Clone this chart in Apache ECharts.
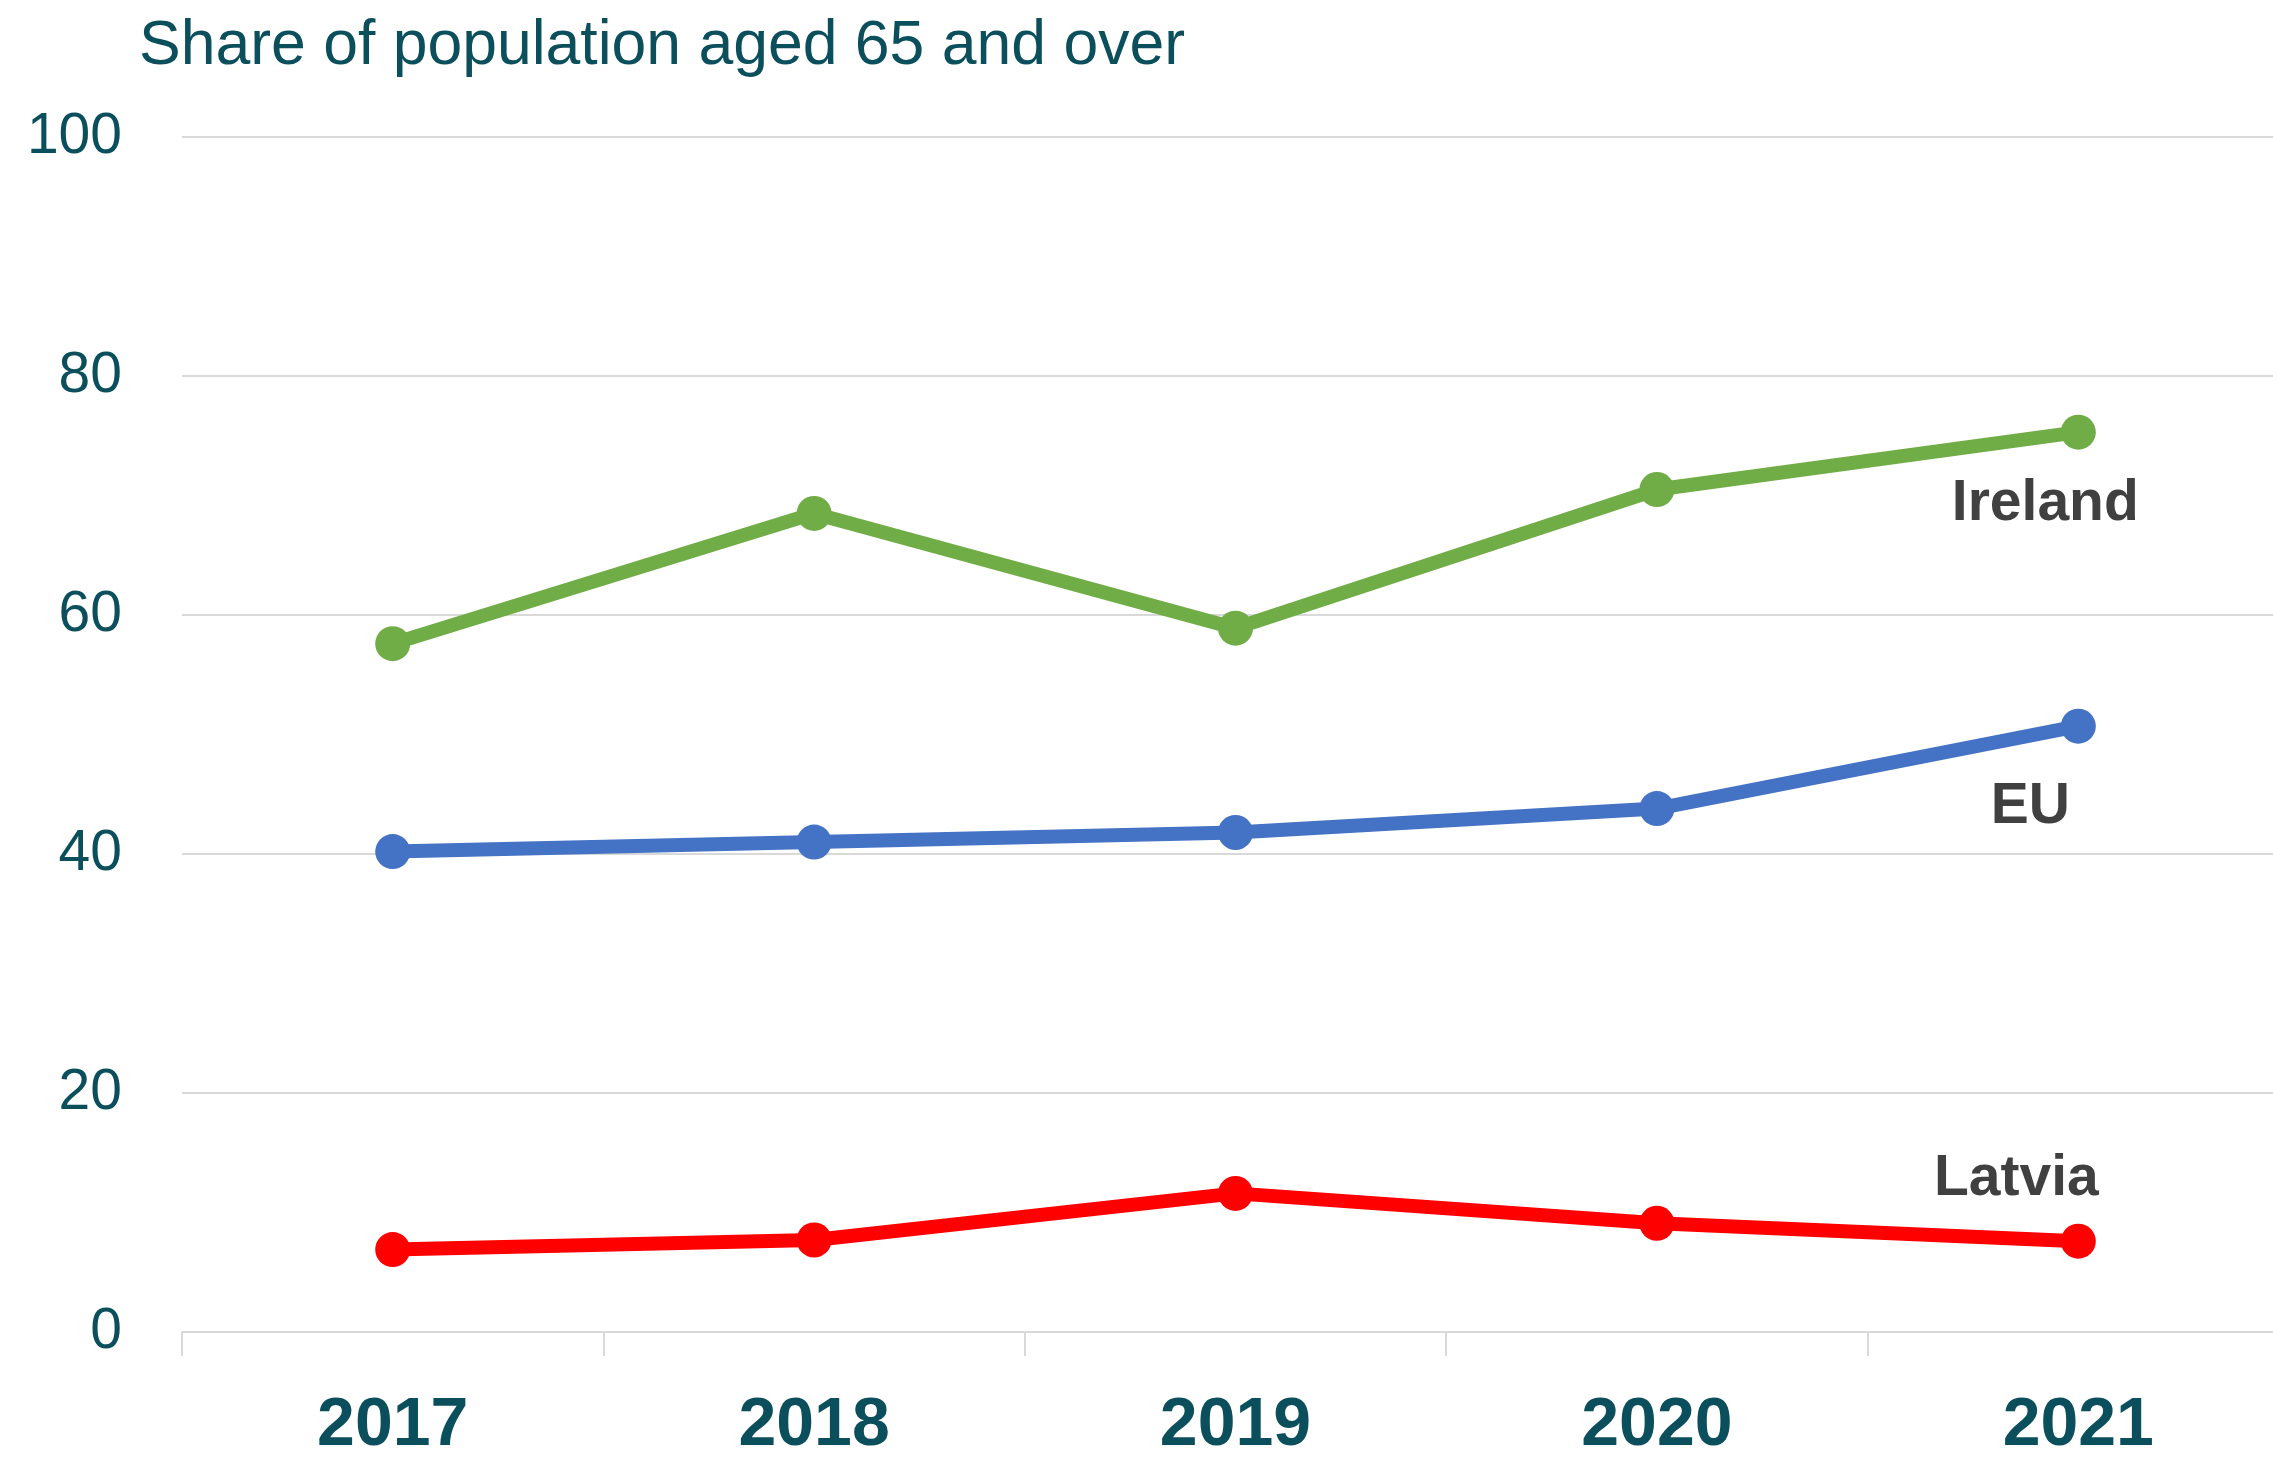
<!DOCTYPE html>
<html>
<head>
<meta charset="utf-8">
<script src="https://cdn.jsdelivr.net/npm/echarts@6.0.0/dist/echarts.min.js"></script>
<style>
    html, body { margin: 0; padding: 0; background: #fff; overflow: hidden; }
    /* the last category runs a little past the right edge of the picture */
    #chart { width: 2289px; height: 1460px; }
</style>
</head>
<body>
<div id="chart"></div>
<script>
const years = ['2017', '2018', '2019', '2020', '2021']
const ireland = [57.6, 68.5, 58.9, 70.5, 75.3]
const eu = [40.2, 41.0, 41.8, 43.8, 50.7]
const latvia = [6.9, 7.7, 11.6, 9.1, 7.6]
const yTicks = [0, 20, 40, 60, 80, 100]

const teal = '#0B4F5C'
const grey = '#D9D9D9'
const font = '"Liberation Sans", Arial, sans-serif'

// put the series name on the last point, shifted left of the marker
function withEndLabel(values, name, offset) {
    return values.map((v, idx) => {
        if (idx !== values.length - 1) {
            return v
        }
        return {
            value: v,
            label: {
                show: true,
                position: 'inside',
                offset: offset,
                formatter: name,
                color: '#404040',
                fontFamily: font,
                fontWeight: 'bold',
                fontSize: 57
            }
        }
    })
}

function lineSeries(name, values, color, offset) {
    return {
        name: name,
        type: 'line',
        data: withEndLabel(values, name, offset),
        symbol: 'circle',
        symbolSize: 35,
        lineStyle: { color: color, width: 14 },
        itemStyle: { color: color },
        animation: false,
        z: 3
    }
}

const chart = echarts.init(document.getElementById('chart'))

chart.setOption({
    backgroundColor: '#fff',
    title: {
        text: 'Share of population aged 65 and over',
        left: 134,
        top: 10,
        textStyle: {
            color: teal,
            fontFamily: font,
            fontWeight: 'normal',
            fontSize: 62.5
        }
    },
    grid: {
        left: 182,
        right: 0,
        top: 137,
        bottom: 127
    },
    xAxis: {
        type: 'category',
        data: years,
        boundaryGap: true,
        axisLine: { lineStyle: { color: grey, width: 2 } },
        axisTick: { show: true, length: 24, lineStyle: { color: grey, width: 2 } },
        axisLabel: {
            color: teal,
            fontFamily: font,
            fontWeight: 'bold',
            fontSize: 68,
            margin: 60
        }
    },
    yAxis: {
        type: 'value',
        min: yTicks[0],
        max: yTicks[yTicks.length - 1],
        interval: yTicks[1] - yTicks[0],
        axisLine: { show: false },
        axisTick: { show: false },
        splitLine: { lineStyle: { color: grey, width: 2 } },
        axisLabel: {
            color: teal,
            fontFamily: font,
            fontSize: 57,
            margin: 60
        }
    },
    series: [
        lineSeries('Ireland', ireland, '#70AD47', [-33, 72]),
        lineSeries('EU', eu, '#4472C4', [-48, 81]),
        lineSeries('Latvia', latvia, '#FF0000', [-62, -62])
    ]
})
</script>
</body>
</html>
